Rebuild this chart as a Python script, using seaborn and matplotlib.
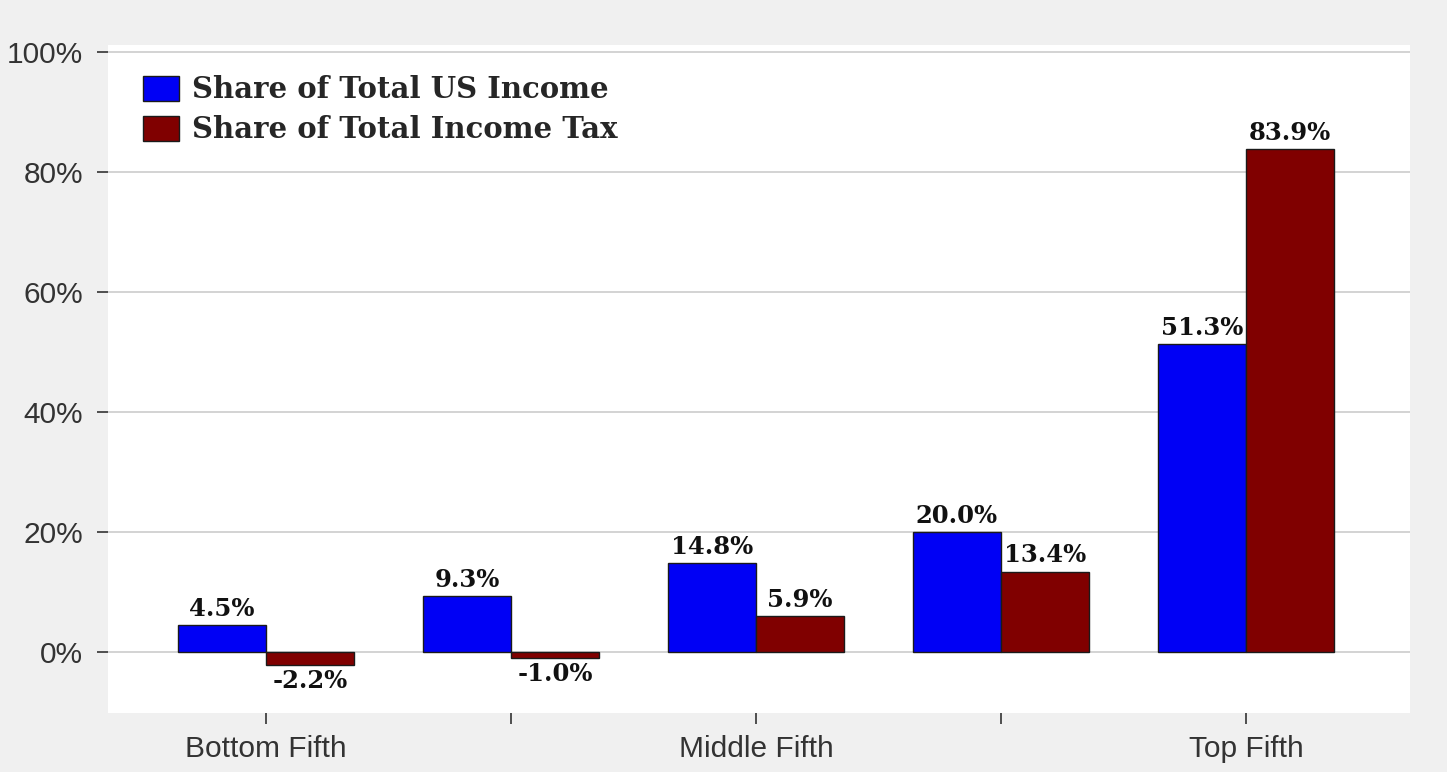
import matplotlib
matplotlib.use("Agg")
import matplotlib.pyplot as plt
from matplotlib.patches import Patch
import seaborn as sns
import pandas as pd

# ---- data ----
groups = ["Bottom Fifth", "Second Fifth", "Middle Fifth", "Fourth Fifth", "Top Fifth"]
tick_labels = ["Bottom Fifth", "", "Middle Fifth", "", "Top Fifth"]
series_names = ["Share of Total US Income", "Share of Total Income Tax"]
income_share = [4.5, 9.3, 14.8, 20.0, 51.3]
tax_share = [-2.2, -1.0, 5.9, 13.4, 83.9]
y_ticks = [0, 20, 40, 60, 80, 100]
colors = ["#0000f5", "#800000"]

df = pd.DataFrame({
    "group": groups * 2,
    "series": [series_names[0]] * len(groups) + [series_names[1]] * len(groups),
    "value": income_share + tax_share,
})

sns.set_theme(style="white")
plt.rcParams["font.family"] = ["Liberation Sans", "DejaVu Sans"]

fig = plt.figure(figsize=(14.47, 7.72), dpi=100, facecolor="#f0f0f0")
ax = fig.add_axes([0.0746, 0.0764, 0.8998, 0.8653])
ax.set_facecolor("white")

sns.barplot(data=df, x="group", y="value", hue="series", order=groups,
            hue_order=series_names, palette=colors, width=0.72,
            edgecolor="#1a1a1a", linewidth=1.0, ax=ax, legend=False,
            errorbar=None, saturation=1)

for cont, vals in zip(ax.containers, [income_share, tax_share]):
    ax.bar_label(cont, labels=[f"{v:.1f}%" for v in vals], padding=3,
                 fontsize=17.5, fontweight="bold", family="DejaVu Serif",
                 color="#111111")

ax.set_xlim(-0.645, 4.669)
ax.set_ylim(-10.2, 101.2)
ax.set_yticks(y_ticks)
ax.set_yticklabels([f"{t}%" for t in y_ticks])
ax.set_xticks(range(len(groups)))
ax.set_xticklabels(tick_labels)
ax.set_xlabel("")
ax.set_ylabel("")
ax.grid(axis="y", color="#d0d0d0", linewidth=1.3)
ax.set_axisbelow(True)
for s in ax.spines.values():
    s.set_visible(False)
ax.tick_params(axis="y", direction="out", length=8, width=1.2, color="#333333",
               labelsize=21.5, labelcolor="#333333", pad=10, left=True)
ax.tick_params(axis="x", direction="out", length=8, width=1.2, color="#333333",
               labelsize=21.5, labelcolor="#333333", pad=8, bottom=True)

handles = [Patch(facecolor=c, edgecolor="#1a1a1a", linewidth=1.0) for c in colors]
ax.legend(handles, series_names, loc="upper left", bbox_to_anchor=(0.0065, 0.994),
          frameon=False, prop={"family": "DejaVu Serif", "weight": "bold", "size": 21},
          handlelength=1.24, handleheight=0.93, handletextpad=0.45, labelspacing=0.38)

fig.savefig("out.png", dpi=100, facecolor=fig.get_facecolor())
